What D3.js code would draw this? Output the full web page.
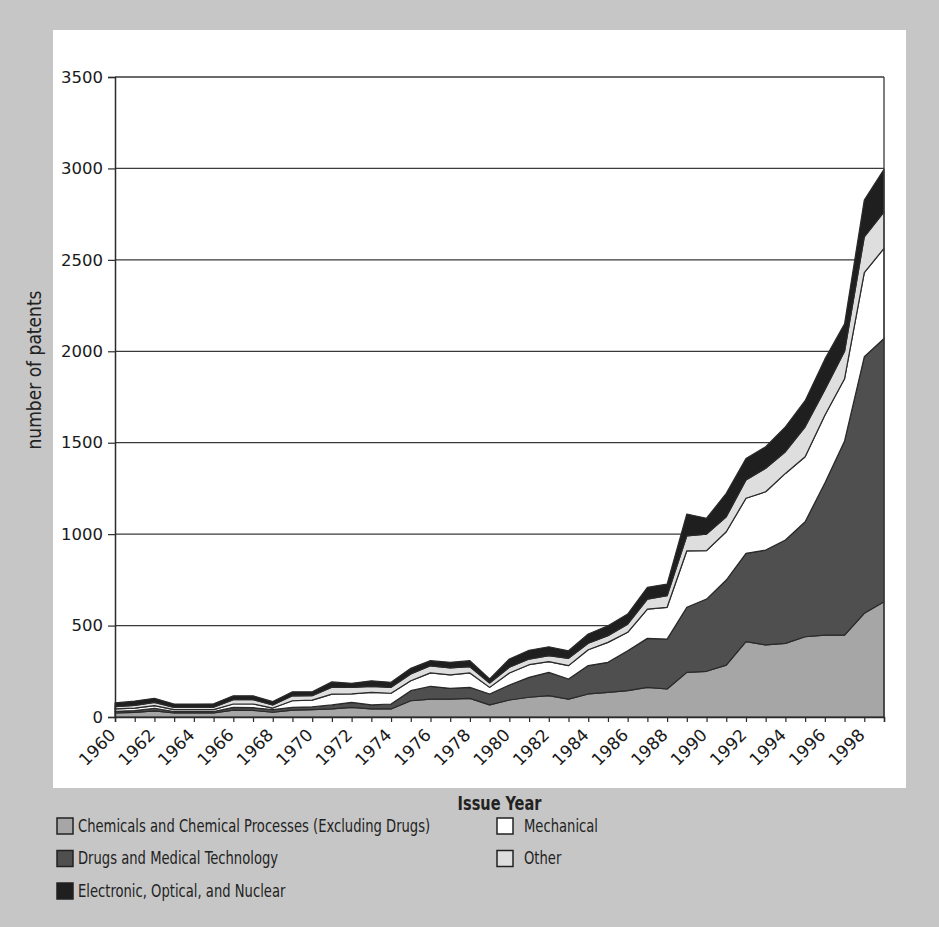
<!DOCTYPE html>
<html>
<head>
<meta charset="utf-8">
<script src="https://cdn.jsdelivr.net/npm/d3@7"></script>
<style>
  body { margin: 0; background: #c6c6c6; }
  svg { display: block; }
</style>
</head>
<body>
<svg id="chart" width="939" height="927"></svg>
<script>
const years = d3.range(1960, 2000);

// stacked from the bottom up
const chemicals  = [22, 25, 34, 22, 22, 22, 38, 36, 26, 38, 40, 44, 53, 44, 44, 89, 98, 98, 102, 66,
                    93, 108, 117, 98, 126, 135, 144, 162, 153, 244, 250, 284, 412, 394, 403, 439, 448, 448, 567, 630];
const drugs      = [9, 10, 14, 7, 7, 7, 15, 15, 14, 15, 16, 22, 27, 22, 27, 55, 70, 59, 60, 60,
                    82, 109, 127, 110, 155, 164, 218, 268, 273, 356, 395, 465, 483, 519, 565, 629, 832, 1062, 1403, 1440];
const mechanical = [13, 14, 14, 11, 11, 11, 18, 20, 9, 36, 36, 59, 46, 69, 59, 54, 73, 73, 79, 36,
                    66, 69, 59, 73, 87, 109, 101, 160, 174, 309, 265, 264, 301, 319, 364, 355, 370, 340, 460, 493];
const other      = [12, 15, 18, 13, 13, 13, 24, 24, 17, 27, 25, 38, 36, 33, 32, 37, 39, 38, 34, 24,
                    31, 31, 32, 40, 35, 37, 45, 55, 63, 82, 90, 82, 100, 128, 119, 164, 140, 150, 196, 200];
const electronic = [21, 23, 22, 18, 18, 19, 21, 21, 18, 22, 21, 29, 22, 30, 28, 31, 28, 31, 33, 22,
                    45, 48, 49, 41, 51, 54, 55, 64, 64, 119, 87, 128, 118, 118, 136, 143, 167, 150, 201, 232];

const keys = ['chemicals', 'drugs', 'mechanical', 'other', 'electronic'];
const fills = {chemicals: '#a6a6a6', drugs: '#4f4f4f', mechanical: '#ffffff', other: '#dedede', electronic: '#1f1f1f'};
const yTicks = [0, 500, 1000, 1500, 2000, 2500, 3000, 3500];
const legendItems = [
	{key: 'chemicals', label: 'Chemicals and Chemical Processes (Excluding Drugs)', col: 0, row: 0},
	{key: 'drugs', label: 'Drugs and Medical Technology', col: 0, row: 1},
	{key: 'electronic', label: 'Electronic, Optical, and Nuclear', col: 0, row: 2},
	{key: 'mechanical', label: 'Mechanical', col: 1, row: 0},
	{key: 'other', label: 'Other', col: 1, row: 1}
];

const rows = years.map((year, i) => ({
	year,
	chemicals: chemicals[i],
	drugs: drugs[i],
	mechanical: mechanical[i],
	other: other[i],
	electronic: electronic[i]
}));

const margin = {left: 115, right: 55, top: 77, bottom: 210};
const width = 939, height = 927;

const svg = d3.select('#chart');
const narrow = '"DejaVu Sans Condensed", "DejaVu Sans", sans-serif';

// white panel
svg.append('rect')
	.attr('x', 53).attr('y', 30)
	.attr('width', 853).attr('height', 758)
	.attr('fill', '#fff');

const x = d3.scaleLinear()
	.domain([1960, 1999])
	.range([margin.left, width - margin.right]);

const y = d3.scaleLinear()
	.domain([0, 3500])
	.range([height - margin.bottom, margin.top]);

const series = d3.stack().keys(keys)(rows);

const area = d3.area()
	.x(d => x(d.data.year))
	.y0(d => y(d[0]))
	.y1(d => y(d[1]));

// grid lines
svg.append('g')
	.selectAll('line')
	.data(yTicks.filter(t => t > 0))
	.enter()
	.append('line')
	.attr('x1', x(1960)).attr('x2', x(1999))
	.attr('y1', d => y(d)).attr('y2', d => y(d))
	.attr('stroke', '#3a3a3a')
	.attr('stroke-width', 1.3);

// areas
svg.append('g')
	.selectAll('path')
	.data(series)
	.enter()
	.append('path')
	.attr('fill', d => fills[d.key])
	.attr('stroke', '#2a2a2a')
	.attr('stroke-width', 1.2)
	.attr('stroke-linejoin', 'round')
	.attr('d', area);

// right border
svg.append('line')
	.attr('x1', x(1999)).attr('x2', x(1999))
	.attr('y1', y(3500)).attr('y2', y(0))
	.attr('stroke', '#3a3a3a').attr('stroke-width', 1.3);

// y axis
const yAxis = svg.append('g')
	.attr('transform', `translate(${margin.left},0)`)
	.call(d3.axisLeft(y).tickValues(yTicks).tickSize(7).tickPadding(5).tickFormat(d3.format('d')));
yAxis.select('.domain').attr('stroke', '#2a2a2a').attr('stroke-width', 1.5);
yAxis.selectAll('.tick line').attr('stroke', '#2a2a2a').attr('stroke-width', 1.2);
yAxis.selectAll('text')
	.attr('font-family', '"DejaVu Sans", sans-serif')
	.attr('font-size', 16.5)
	.attr('fill', '#1a1a1a');

// x axis
const xAxis = svg.append('g')
	.attr('transform', `translate(0,${y(0)})`)
	.call(d3.axisBottom(x).tickValues(years).tickSize(5).tickFormat(d => d % 2 === 0 ? d : ''));
xAxis.select('.domain').attr('stroke', '#2a2a2a').attr('stroke-width', 1.5);
xAxis.selectAll('.tick line').attr('stroke', '#2a2a2a').attr('stroke-width', 1.2);
xAxis.selectAll('text')
	.attr('font-family', '"DejaVu Sans", sans-serif')
	.attr('font-size', 17)
	.attr('fill', '#1a1a1a')
	.attr('text-anchor', 'end')
	.attr('y', 0)
	.attr('dy', '0.35em')
	.attr('transform', 'translate(-3,15) rotate(-45)');

// axis titles
svg.append('text')
	.attr('transform', 'translate(41,370) rotate(-90)')
	.attr('text-anchor', 'middle')
	.attr('font-family', narrow)
	.attr('font-size', 19)
	.attr('fill', '#222')
	.text('number of patents');

svg.append('text')
	.attr('transform', `translate(${(x(1960) + x(1999)) / 2},810) scale(0.85,1)`)
	.attr('text-anchor', 'middle')
	.attr('font-family', narrow)
	.attr('font-weight', 'bold')
	.attr('font-size', 19)
	.attr('fill', '#222')
	.text('Issue Year');

// legend
const legend = svg.append('g')
	.selectAll('g')
	.data(legendItems)
	.enter()
	.append('g')
	.attr('transform', d => `translate(${d.col === 0 ? 57 : 497},${826 + d.row * 32.5})`);

legend.append('rect')
	.attr('x', 0).attr('y', -8)
	.attr('width', 16).attr('height', 16)
	.attr('fill', d => fills[d.key])
	.attr('stroke', '#222')
	.attr('stroke-width', 1.5);

legend.append('text')
	.attr('transform', d => `translate(${d.col === 0 ? 21 : 27},0) scale(0.86,1)`)
	.attr('dy', '0.35em')
	.attr('font-family', narrow)
	.attr('font-size', 17)
	.attr('fill', '#222')
	.text(d => d.label);
</script>
</body>
</html>
